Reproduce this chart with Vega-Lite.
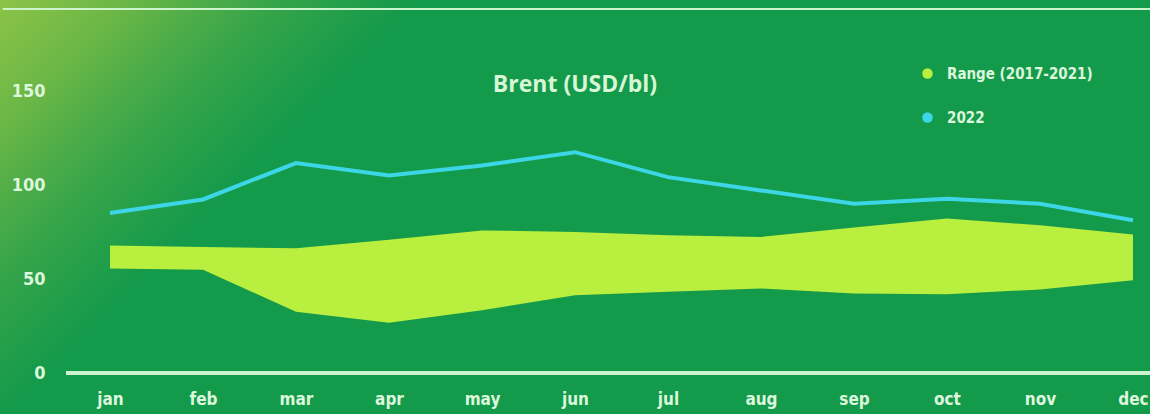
{
  "$schema": "https://vega.github.io/schema/vega-lite/v6.json",
  "width": 1150,
  "height": 414,
  "autosize": {"type": "none"},
  "padding": 0,
  "background": "#149a4b",
  "config": {
    "view": {"stroke": null},
    "font": "DejaVu Sans Condensed, Roboto, sans-serif"
  },
  "title": {
    "text": "Brent (USD/bl)",
    "font": "Open Sans",
    "fontSize": 23,
    "fontWeight": "bold",
    "color": "#d9f6d6",
    "anchor": "middle",
    "baseline": "middle",
    "offset": 0,
    "dy": 108
  },
  "data": {
    "values": [
      {"m": 1, "month": "jan", "lo": 55.7, "hi": 68.0, "y2022": 85.3},
      {"m": 2, "month": "feb", "lo": 55.0, "hi": 67.2, "y2022": 92.5},
      {"m": 3, "month": "mar", "lo": 32.6, "hi": 66.5, "y2022": 111.9},
      {"m": 4, "month": "apr", "lo": 26.8, "hi": 71.0, "y2022": 105.3},
      {"m": 5, "month": "may", "lo": 33.5, "hi": 76.0, "y2022": 110.6},
      {"m": 6, "month": "jun", "lo": 41.5, "hi": 75.2, "y2022": 117.7},
      {"m": 7, "month": "jul", "lo": 43.3, "hi": 73.4, "y2022": 104.4},
      {"m": 8, "month": "aug", "lo": 45.0, "hi": 72.5, "y2022": 97.3},
      {"m": 9, "month": "sep", "lo": 42.4, "hi": 77.5, "y2022": 90.2},
      {"m": 10, "month": "oct", "lo": 42.0, "hi": 82.3, "y2022": 92.9},
      {"m": 11, "month": "nov", "lo": 44.5, "hi": 78.7, "y2022": 90.2},
      {"m": 12, "month": "dec", "lo": 49.5, "hi": 73.8, "y2022": 81.4}
    ]
  },
  "encoding": {
    "x": {
      "field": "m",
      "type": "quantitative",
      "scale": {"domain": [-0.183, 12.183], "nice": false, "zero": false},
      "axis": {
        "values": [1, 2, 3, 4, 5, 6, 7, 8, 9, 10, 11, 12],
        "labelExpr": "['jan','feb','mar','apr','may','jun','jul','aug','sep','oct','nov','dec'][datum.value - 1]",
        "title": null,
        "grid": false,
        "ticks": false,
        "domain": false,
        "offset": -41,
        "zindex": 1,
        "labelColor": "#dcf7dc",
        "labelFont": "DejaVu Sans Condensed, Roboto, sans-serif",
        "labelFontWeight": "bold",
        "labelFontSize": 17,
        "labelPadding": 18,
        "labelFlush": false
      }
    }
  },
  "layer": [
    {
      "mark": {
        "type": "rect",
        "color": {
          "gradient": "linear",
          "x1": 0, "y1": 0, "x2": 0.32, "y2": 0.115,
          "stops": [
            {"offset": 0, "color": "#8cc447"},
            {"offset": 0.3, "color": "#6cb746"},
            {"offset": 0.65, "color": "#38a549"},
            {"offset": 1, "color": "#149a4b"}
          ]
        }
      },
      "encoding": {
        "x": {"datum": -0.183},
        "x2": {"datum": 12.183},
        "y": {"datum": -21.85},
        "y2": {"datum": 198.8}
      }
    },
    {
      "mark": {"type": "rule", "color": "#cdf5cd", "strokeWidth": 2},
      "encoding": {
        "y": {"datum": 194},
        "x": {"datum": -0.151},
        "x2": {"datum": 12.183}
      }
    },
    {
      "mark": {"type": "rule", "color": "#cdf5cd", "strokeWidth": 2.5},
      "encoding": {
        "y": {"datum": 0},
        "x": {"datum": 0.527},
        "x2": {"datum": 12.183}
      }
    },
    {
      "mark": {"type": "area", "opacity": 1},
      "transform": [{"calculate": "'Range (2017-2021)'", "as": "series"}],
      "encoding": {
        "y": {
          "field": "hi",
          "type": "quantitative",
          "scale": {"domain": [-21.85, 198.8], "nice": false, "zero": false},
          "axis": {
            "values": [0, 50, 100, 150],
            "title": null,
            "grid": false,
            "ticks": false,
            "domain": false,
            "zindex": 1,
            "labelAlign": "right",
            "labelColor": "#dcf7dc",
            "labelFont": "DejaVu Sans Condensed, Roboto, sans-serif",
            "labelFontWeight": "bold",
            "labelFontSize": 18,
            "labelPadding": -45
          }
        },
        "y2": {"field": "lo"},
        "color": {
          "field": "series",
          "type": "nominal",
          "scale": {"domain": ["Range (2017-2021)", "2022"], "range": ["#b9f03f", "#3dd6e6"]},
          "legend": {
            "title": null,
            "orient": "none",
            "legendX": 920,
            "legendY": 66,
            "symbolType": "circle",
            "symbolSize": 110,
            "symbolStrokeWidth": 0,
            "labelColor": "#dcf7dc",
            "labelFont": "DejaVu Sans Condensed, Roboto, sans-serif",
            "labelFontWeight": "bold",
            "labelFontSize": 15,
            "labelOffset": 12,
            "labelLimit": 300,
            "rowPadding": 28,
            "padding": 0,
            "encode": {
              "symbols": {
                "update": {
                  "fill": {"scale": "color", "field": "value"},
                  "opacity": {"value": 1}
                }
              }
            }
          }
        }
      }
    },
    {
      "mark": {"type": "line", "strokeWidth": 4},
      "transform": [{"calculate": "'2022'", "as": "series"}],
      "encoding": {
        "y": {"field": "y2022", "type": "quantitative"},
        "color": {"field": "series", "type": "nominal"}
      }
    }
  ]
}
